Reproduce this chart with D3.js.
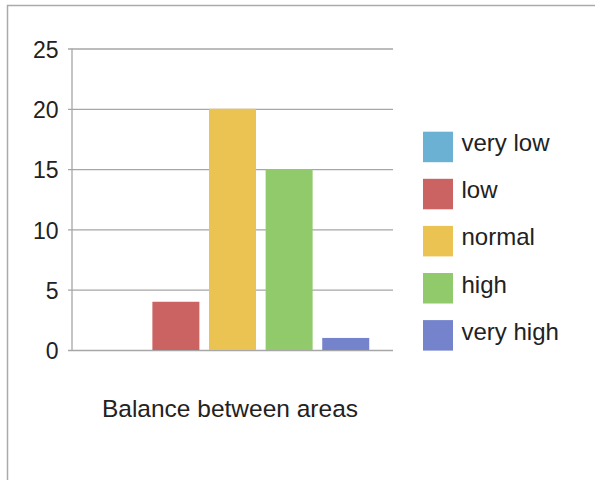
<!DOCTYPE html>
<html>
<head>
<meta charset="utf-8">
<script src="https://cdn.jsdelivr.net/npm/d3@7"></script>
<style>
  html, body { margin: 0; padding: 0; background: #fff; }
  svg { display: block; }
  text { font-family: "Liberation Sans", Arial, sans-serif; fill: #222; }
</style>
</head>
<body>
<svg id="chart" width="595" height="480"></svg>
<script>
const categories = ["very low", "low", "normal", "high", "very high"];
const values = [0, 4, 20, 15, 1];
const colors = ["#6bb1d4", "#cc6363", "#ebc353", "#91ca6a", "#7583cc"];
const yTicks = [0, 5, 10, 15, 20, 25];
const xLabel = "Balance between areas";

const svg = d3.select("#chart");

// outer frame (top and left edges visible)
svg.append("path")
  .attr("d", "M7.5,480 L7.5,5.5 L595,5.5")
  .attr("fill", "none")
  .attr("stroke", "#aaa")
  .attr("stroke-width", 1.5);

const plot = { left: 72, right: 393, top: 48.5, bottom: 350 };

const x = d3.scaleBand()
  .domain(categories)
  .range([plot.left, plot.right])
  .paddingInner(0.17)
  .paddingOuter(0.42);

const y = d3.scaleLinear()
  .domain([0, 25])
  .range([plot.bottom, plot.top]);

// gridlines
const g = svg.append("g")
  .attr("transform", `translate(${plot.right},0)`)
  .call(d3.axisRight(y).tickValues(yTicks).tickSize(-(plot.right - plot.left + 4)).tickFormat(""));
g.select(".domain").remove();
g.selectAll(".tick line").attr("stroke", "#a6a6a6").attr("stroke-width", 1.3);

// y axis line
svg.append("line")
  .attr("x1", plot.left).attr("x2", plot.left)
  .attr("y1", y(25)).attr("y2", y(0))
  .attr("stroke", "#a6a6a6").attr("stroke-width", 1.3);

// y labels
svg.append("g").selectAll("text")
  .data(yTicks)
  .join("text")
  .attr("x", 58.5)
  .attr("y", d => y(d))
  .attr("dy", "0.4em")
  .attr("text-anchor", "end")
  .attr("font-size", 23)
  .text(d => d);

// bars
svg.append("g").selectAll("rect")
  .data(values)
  .join("rect")
  .attr("x", (d, i) => x(categories[i]))
  .attr("width", x.bandwidth())
  .attr("y", d => y(d))
  .attr("height", d => y(0) - y(d))
  .attr("fill", (d, i) => colors[i]);

// x label
svg.append("text")
  .attr("x", 230)
  .attr("y", 417)
  .attr("text-anchor", "middle")
  .attr("font-size", 24.5)
  .text(xLabel);

// legend
const legend = svg.append("g").selectAll("g")
  .data(categories)
  .join("g")
  .attr("transform", (d, i) => `translate(423,${131.7 + i * 47.1})`);
legend.append("rect")
  .attr("width", 30).attr("height", 30.5)
  .attr("fill", (d, i) => colors[i]);
legend.append("text")
  .attr("x", 38.5)
  .attr("y", 19.5)
  .attr("font-size", 24)
  .text(d => d);
</script>
</body>
</html>
